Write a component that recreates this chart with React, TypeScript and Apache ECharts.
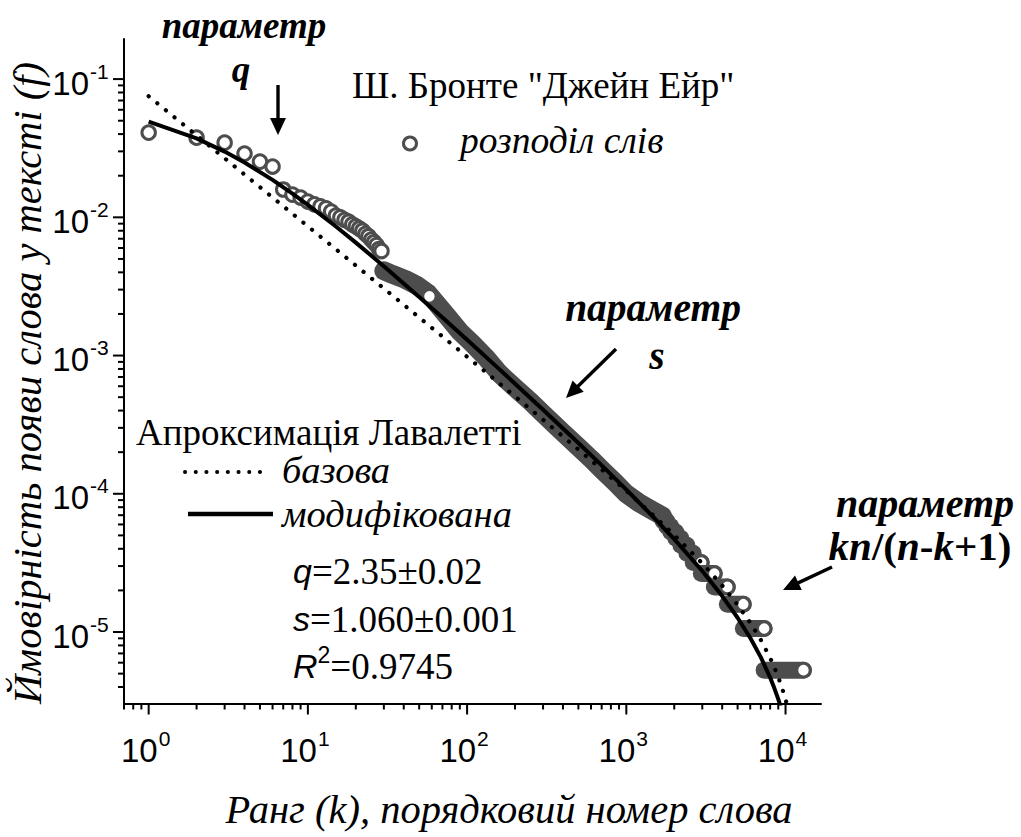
import React, { useEffect, useRef } from "react";
import * as echarts from "echarts";

const SERIF = "Liberation Serif";
const SANS = "Liberation Sans";
const INK = "#000";
const MARK = "#4d4d4d";

// Axis extents (log scales)
const X_MIN = 0.7;
const X_MAX = 16700;
const Y_MIN = 3.04e-6;
const Y_MAX = 0.195;

// Most frequent words: rank and relative frequency
const headRanks = [1, 2, 3, 4, 5, 6, 7, 8, 9, 10, 11, 12, 13, 14, 15, 16, 17, 18, 19, 20, 21, 22, 23, 24, 25, 26, 27, 28, 29];
const headFreq = [
  0.041, 0.0377, 0.0347, 0.0289, 0.0253, 0.0233, 0.0159, 0.0146, 0.0139, 0.013, 0.0124, 0.012, 0.0116, 0.011, 0.0103,
  0.01, 0.0096, 0.0093, 0.0089, 0.0086, 0.0083, 0.008, 0.0076, 0.0073, 0.0069, 0.0066, 0.0063, 0.0059, 0.0057,
];

// Dense middle of the distribution, where markers merge into a band
const bandRanks = [30, 34, 41, 48.5, 57, 66, 76, 90, 108, 130, 160, 200, 250, 300, 400, 500, 600, 700, 850, 1000, 1200, 1450, 1690];
const bandFreq = [
  0.0041, 0.00386, 0.00355, 0.00321, 0.00281, 0.0023, 0.00189, 0.00149, 0.00122, 0.00098, 0.00074, 0.000585, 0.000465,
  0.000379, 0.000277, 0.000218, 0.000179, 0.00015, 0.000121, 0.0001, 0.000086, 0.000076, 0.000069,
];
const bandRunEndRank = [58];
const bandRunEndFreq = [0.00268];

// Tail: words with the same count share one frequency (runs of ranks)
const plateauFreq = [6.36e-5, 5.83e-5, 5.3e-5, 4.77e-5, 4.24e-5, 3.71e-5, 3.18e-5, 2.65e-5, 2.12e-5, 1.59e-5, 1.06e-5, 5.3e-6];
const plateauFirst = [1700, 1795, 1901, 2046, 2201, 2401, 2631, 2957, 3571, 4311, 5431, 7341];
const plateauLast = [1794, 1900, 2045, 2200, 2400, 2630, 2956, 3570, 4310, 5430, 7340, 12960];
// Runs whose last marker stays uncovered by the following run
const plateauOpenEnd = [false, false, false, false, false, false, true, true, true, true, true, true];

// Lavalette approximations
const fitRanks = [1, 2, 3, 4, 6, 8, 10, 15, 20, 30, 50, 70, 100, 150, 200, 300, 500, 700, 1000, 1500, 2000, 3000, 4000, 5000, 6000, 7000, 8000, 8500, 9000, 9500, 10000, 10300, 10500];
const basicFit = [
  0.0752, 0.03917, 0.02674, 0.0204, 0.013924, 0.010622, 0.008608, 0.005875, 0.004481, 0.003057, 0.0018877, 0.0013738,
  0.0009799, 0.0006664, 0.0005068, 0.0003433, 0.0002091, 0.0001501, 0.00010483, 6.877e-5, 5.031e-5, 3.14e-5, 2.17e-5,
  1.575e-5, 1.169e-5, 8.75e-6, 6.5e-6, 5.56e-6, 4.717e-6, 3.953e-6, 3.258e-6, 2.87e-6, 2.622e-6,
];
const modifiedFit = [
  0.04916, 0.03723, 0.0299, 0.02494, 0.01865, 0.01485, 0.01232, 0.008587, 0.006563, 0.00443, 0.002656, 0.001882,
  0.0012994, 0.0008489, 0.0006257, 0.0004055, 0.0002328, 0.0001604, 0.00010717, 6.671e-5, 4.694e-5, 2.761e-5, 1.821e-5,
  1.268e-5, 9.08e-6, 6.55e-6, 4.685e-6, 3.93e-6, 3.266e-6, 2.676e-6, 2.153e-6, 1.866e-6, 1.685e-6,
];

// Tick positions
const xMajorTicks = [1, 10, 100, 1000, 10000];
const xMinorTicks = [
  0.7, 0.8, 0.9, 2, 3, 4, 5, 6, 7, 8, 9, 20, 30, 40, 50, 60, 70, 80, 90, 200, 300, 400, 500, 600, 700, 800, 900,
  2000, 3000, 4000, 5000, 6000, 7000, 8000, 9000,
];
const yMajorTicks = [1e-1, 1e-2, 1e-3, 1e-4, 1e-5];
const yMinorTicks = [
  4e-6, 5e-6, 6e-6, 7e-6, 8e-6, 9e-6, 2e-5, 3e-5, 4e-5, 5e-5, 6e-5, 7e-5, 8e-5, 9e-5, 2e-4, 3e-4, 4e-4, 5e-4, 6e-4,
  7e-4, 8e-4, 9e-4, 2e-3, 3e-3, 4e-3, 5e-3, 6e-3, 7e-3, 8e-3, 9e-3, 2e-2, 3e-2, 4e-2, 5e-2, 6e-2, 7e-2, 8e-2, 9e-2,
];

const markerStyle = { color: "#fff", borderColor: MARK, borderWidth: 3, opacity: 1 };
const MARKER_SIZE = 13.5;

type FontSpec = { family: string; size: number; style?: string; weight?: string };

function textStyle(f: FontSpec, align: string, extra: any = {}) {
  return {
    fontFamily: f.family,
    fontSize: f.size,
    fontStyle: f.style || "normal",
    fontWeight: f.weight || "normal",
    fill: INK,
    align,
    textAlign: align,
    verticalAlign: "middle",
    textVerticalAlign: "middle",
    ...extra,
  };
}

function label(x: number, y: number, text: string, f: FontSpec, align = "left") {
  return { type: "text", x, y, z: 100, style: { text, ...textStyle(f, align) } };
}

function arrow(x1: number, y1: number, x2: number, y2: number) {
  const dx = x2 - x1;
  const dy = y2 - y1;
  const len = Math.hypot(dx, dy);
  const ux = dx / len;
  const uy = dy / len;
  const hl = 17;
  const hw = 8;
  const bx = x2 - ux * hl;
  const by = y2 - uy * hl;
  return [
    { type: "line", z: 100, shape: { x1, y1, x2: bx + ux * 2, y2: by + uy * 2 }, style: { stroke: INK, lineWidth: 3.4 } },
    {
      type: "polygon",
      z: 100,
      shape: { points: [[x2, y2], [bx - uy * hw, by + ux * hw], [bx + uy * hw, by - ux * hw]] },
      style: { fill: INK },
    },
  ];
}

function buildOption() {
  const biTop: FontSpec = { family: SERIF, size: 37, style: "italic", weight: "bold" };
  const biMid: FontSpec = { family: SERIF, size: 39.5, style: "italic", weight: "bold" };
  const biRight: FontSpec = { family: SERIF, size: 40, style: "italic", weight: "bold" };
  const itLegend: FontSpec = { family: SERIF, size: 37.5, style: "italic" };
  const itFit: FontSpec = { family: SERIF, size: 38.5, style: "italic" };
  const rg: FontSpec = { family: SERIF, size: 37 };
  const title: FontSpec = { family: SERIF, size: 40.5, style: "italic" };

  const richParams = {
    i: { fontFamily: SANS, fontStyle: "italic", fontSize: 34, lineHeight: 46, fill: INK },
    n: { fontFamily: SERIF, fontSize: 37, lineHeight: 46, fill: INK },
    s: { fontFamily: SANS, fontSize: 23, lineHeight: 32, verticalAlign: "top", fill: INK },
  };
  const richKn = {
    i: { fontFamily: SERIF, fontStyle: "italic", fontWeight: "bold", fontSize: 41, fill: INK },
    r: { fontFamily: SERIF, fontWeight: "bold", fontSize: 41, fill: INK },
  };

  const graphic: any[] = [
    label(244, 25, "параметр", biTop, "center"),
    label(241, 69, "q", biTop, "center"),
    ...arrow(278, 85, 278, 135),
    label(352, 85, 'Ш. Бронте "Джейн Ейр"', rg, "left"),
    { type: "circle", z: 100, shape: { cx: 410, cy: 143.5, r: 6.5 }, style: { fill: "#fff", stroke: MARK, lineWidth: 3 } },
    label(460, 140, "розподіл слів", itLegend, "left"),
    label(653, 308, "параметр", biMid, "center"),
    label(657, 356, "s", biMid, "center"),
    ...arrow(616, 349, 566, 398),
    label(925, 503, "параметр", biRight, "center"),
    {
      type: "text",
      x: 920,
      y: 546,
      z: 100,
      style: { text: "{i|kn}{r|/(}{i|n}{r|-}{i|k}{r|+1)}", rich: richKn, ...textStyle(biRight, "center") },
    },
    ...arrow(832, 567, 783, 590),
    label(136, 432, "Апроксимація Лавалетті", rg, "left"),
    {
      type: "line",
      z: 100,
      shape: { x1: 185, y1: 472, x2: 270, y2: 472 },
      style: { stroke: INK, lineWidth: 4, lineDash: [0.1, 10.6], lineCap: "round" },
    },
    label(282, 470, "базова", itFit, "left"),
    { type: "line", z: 100, shape: { x1: 188, y1: 514, x2: 273, y2: 514 }, style: { stroke: INK, lineWidth: 4.5 } },
    label(282, 514, "модифікована", itFit, "left"),
    {
      type: "text",
      x: 293,
      y: 571,
      z: 100,
      style: { text: "{i|q}{n|=2.35±0.02}", rich: richParams, ...textStyle(rg, "left") },
    },
    {
      type: "text",
      x: 293,
      y: 619,
      z: 100,
      style: { text: "{i|s}{n|=1.060±0.001}", rich: richParams, ...textStyle(rg, "left") },
    },
    {
      type: "text",
      x: 293,
      y: 666,
      z: 100,
      style: { text: "{i|R}{s|2}{n|=0.9745}", rich: richParams, ...textStyle(rg, "left") },
    },
    label(509, 809, "Ранг (k), порядковий номер слова", title, "center"),
    {
      type: "text",
      x: 27,
      y: 383,
      z: 100,
      rotation: Math.PI / 2,
      style: { text: "Ймовірність появи слова у тексті (f)", ...textStyle(title, "center") },
    },
  ];

  const plateauSeries = plateauFreq.flatMap((f, i) => {
    const run: any[] = [
      {
        type: "line",
        data: [
          [plateauFirst[i], f],
          [plateauLast[i], f],
        ],
        symbol: "none",
        silent: true,
        lineStyle: { width: 17, color: MARK, cap: "round" },
        z: 4 + 2 * i,
      },
    ];
    if (plateauOpenEnd[i]) {
      run.push({
        type: "scatter",
        data: [[plateauLast[i], f]],
        symbol: "circle",
        symbolSize: MARKER_SIZE,
        silent: true,
        itemStyle: markerStyle,
        z: 5 + 2 * i,
      });
    }
    return run;
  });

  const tickLine = (horizontal: boolean) => (_p: any, api: any) => {
    const pt = api.coord([api.value(0), api.value(1)]);
    const len = api.value(2);
    const shape = horizontal
      ? { x1: pt[0], y1: pt[1], x2: pt[0], y2: pt[1] + len }
      : { x1: pt[0], y1: pt[1], x2: pt[0] - len, y2: pt[1] };
    return { type: "line", shape, style: { stroke: INK, lineWidth: 2 } };
  };

  const numFont: FontSpec = { family: SANS, size: 33 };
  const expFont: FontSpec = { family: SANS, size: 21 };

  const series: any[] = [
    {
      type: "line",
      name: "band",
      data: bandRanks.map((k, i) => [k, bandFreq[i]]),
      symbol: "none",
      silent: true,
      lineStyle: { width: 19, color: MARK, cap: "round", join: "round" },
      z: 2,
    },
    {
      type: "scatter",
      name: "розподіл слів",
      data: headRanks.map((k, i) => [k, headFreq[i]]),
      symbol: "circle",
      symbolSize: MARKER_SIZE,
      silent: true,
      itemStyle: markerStyle,
      z: 3,
    },
    {
      type: "scatter",
      data: bandRunEndRank.map((k, i) => [k, bandRunEndFreq[i]]),
      symbol: "circle",
      symbolSize: MARKER_SIZE,
      silent: true,
      itemStyle: markerStyle,
      z: 3,
    },
    ...plateauSeries,
    {
      type: "line",
      name: "базова",
      data: fitRanks.map((k, i) => [k, basicFit[i]]),
      symbol: "none",
      silent: true,
      lineStyle: { color: INK, width: 4.2, type: [0.1, 11], cap: "round" },
      z: 40,
    },
    {
      type: "line",
      name: "модифікована",
      data: fitRanks.map((k, i) => [k, modifiedFit[i]]),
      symbol: "none",
      silent: true,
      lineStyle: { color: INK, width: 4 },
      z: 41,
    },
    {
      type: "custom",
      coordinateSystem: "cartesian2d",
      clip: false,
      silent: true,
      z: 50,
      data: [...xMajorTicks.map((v) => [v, Y_MIN, 11]), ...xMinorTicks.map((v) => [v, Y_MIN, 6])],
      renderItem: tickLine(true),
    },
    {
      type: "custom",
      coordinateSystem: "cartesian2d",
      clip: false,
      silent: true,
      z: 50,
      data: [...yMajorTicks.map((v) => [X_MIN, v, 11]), ...yMinorTicks.map((v) => [X_MIN, v, 6])],
      renderItem: tickLine(false),
    },
    {
      type: "custom",
      coordinateSystem: "cartesian2d",
      clip: false,
      silent: true,
      z: 50,
      data: xMajorTicks.map((v) => [v, Y_MIN]),
      renderItem: (_p: any, api: any) => {
        const v = api.value(0);
        const pt = api.coord([v, api.value(1)]);
        const e = Math.round(Math.log10(v));
        return {
          type: "group",
          children: [
            { type: "text", x: pt[0] + 9, y: pt[1] + 47, style: { text: "10", ...textStyle(numFont, "right") } },
            { type: "text", x: pt[0] + 10, y: pt[1] + 35, style: { text: String(e), ...textStyle(expFont, "left") } },
          ],
        };
      },
    },
    {
      type: "custom",
      coordinateSystem: "cartesian2d",
      clip: false,
      silent: true,
      z: 50,
      data: yMajorTicks.map((v) => [X_MIN, v]),
      renderItem: (_p: any, api: any) => {
        const v = api.value(1);
        const pt = api.coord([api.value(0), v]);
        const e = Math.round(Math.log10(v));
        return {
          type: "group",
          children: [
            { type: "text", x: pt[0] - 35, y: pt[1] + 4, style: { text: "10", ...textStyle(numFont, "right") } },
            { type: "text", x: pt[0] - 34, y: pt[1] - 8, style: { text: String(e), ...textStyle(expFont, "left") } },
          ],
        };
      },
    },
  ];

  const axisBase = {
    type: "log",
    logBase: 10,
    axisLine: { show: true, onZero: false, lineStyle: { color: INK, width: 2 } },
    axisTick: { show: false },
    axisLabel: { show: false },
    splitLine: { show: false },
    minorTick: { show: false },
    minorSplitLine: { show: false },
  };

  return {
    animation: false,
    backgroundColor: "#fff",
    grid: { left: 124, top: 39, right: 200, bottom: 133.5, containLabel: false },
    xAxis: { ...axisBase, min: X_MIN, max: X_MAX },
    yAxis: { ...axisBase, min: Y_MIN, max: Y_MAX },
    series,
    graphic,
  };
}

export default function App() {
  const ref = useRef<HTMLDivElement>(null);
  useEffect(() => {
    if (!ref.current) return;
    const chart = echarts.init(ref.current, undefined, { renderer: "svg" });
    chart.setOption(buildOption() as any);
    return () => chart.dispose();
  }, []);
  return (
    <div
      ref={ref}
      style={{ position: "fixed", left: 0, top: 0, width: 1021, height: 837, background: "#fff" }}
    />
  );
}
